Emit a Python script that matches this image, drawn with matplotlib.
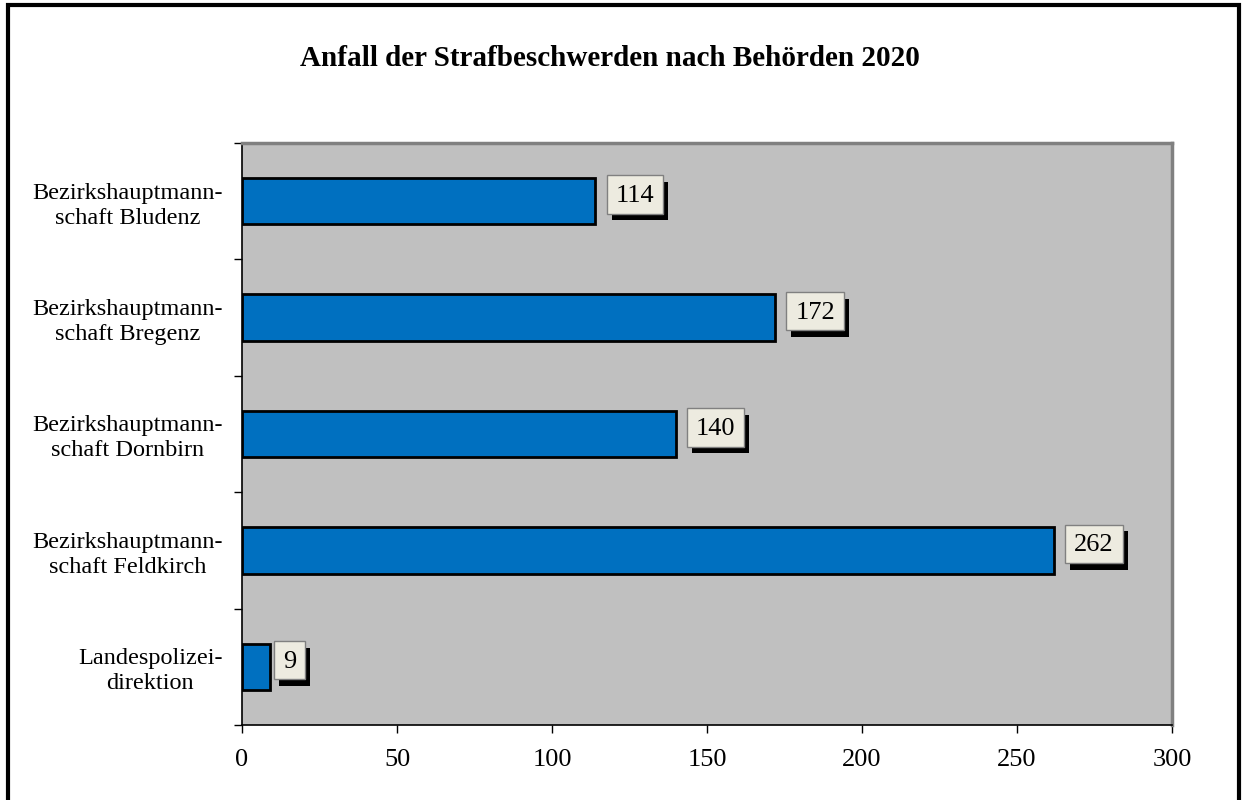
import matplotlib
matplotlib.use("Agg")
import matplotlib.pyplot as plt
import matplotlib.patheffects as pe
from matplotlib.patches import Rectangle
from matplotlib.path import Path

plt.rcParams['font.family'] = ['Liberation Serif', 'DejaVu Serif']

categories = ["Bezirkshauptmann-\nschaft Bludenz",
              "Bezirkshauptmann-\nschaft Bregenz",
              "Bezirkshauptmann-\nschaft Dornbirn",
              "Bezirkshauptmann-\nschaft Feldkirch",
              "Landespolizei-\ndirektion"]
values = [114, 172, 140, 262, 9]
x_ticks = [0, 50, 100, 150, 200, 250, 300]
title = "Anfall der Strafbeschwerden nach Behörden 2020"


def label_box(x0, y0, width, height, mutation_size):
    # square box, with less room under the digits (no descenders)
    padx = 0.33 * mutation_size
    pady = 0.37 * mutation_size
    cut = 0.12 * mutation_size
    x1 = x0 + width + padx
    y1 = y0 + height + pady
    x0 -= padx
    y0 = y0 - pady + cut
    return Path([(x0, y0), (x1, y0), (x1, y1), (x0, y1), (x0, y0)], closed=True)


fig = plt.figure(figsize=(12.42, 8), dpi=100)
ax = fig.add_axes([242/1242, 1-725/800, 930/1242, 582/800])
ax.set_facecolor('#C0C0C0')

ypos = list(range(len(categories)))
ax.barh(ypos, values, height=0.4, color='#0070C0', edgecolor='black', linewidth=2, zorder=3)

ax.set_ylim(len(categories) - 0.5, -0.5)
ax.set_xlim(0, 300)
ax.set_xticks(x_ticks)
ax.set_yticks(ypos)
ax.set_yticklabels(categories, multialignment='center', linespacing=1.25)
ax.set_yticks([i - 0.5 for i in range(len(categories) + 1)], minor=True)
ax.tick_params(axis='y', which='major', length=0, pad=14, labelsize=17.5)
ax.tick_params(axis='y', which='minor', length=6, width=1, direction='out')
ax.tick_params(axis='x', length=6, width=1, direction='out', pad=11.5, labelsize=19)

for s in ['left', 'bottom']:
    ax.spines[s].set_color('black')
    ax.spines[s].set_linewidth(1.2)
for s in ['top', 'right']:
    ax.spines[s].set_color('#808080')
    ax.spines[s].set_linewidth(2.5)

for y, v in zip(ypos, values):
    off = 4 if v < 20 else 11
    t = ax.annotate(str(v), xy=(v, y), xytext=(off + 9, 5), textcoords='offset pixels',
                    ha='left', va='center', fontsize=19, zorder=5,
                    bbox=dict(boxstyle=label_box, facecolor='#EDEBE0', edgecolor='#808080', linewidth=1))
    t.get_bbox_patch().set_path_effects([
        pe.SimplePatchShadow(offset=(3.6, -4.8), shadow_rgbFace='black', alpha=1.0),
        pe.Normal()])

fig.text(610/1242, 1-58/800, title, ha='center', va='center', fontsize=21, fontweight='bold')

fig.patches.append(Rectangle((8/1242, -0.05), 1231/1242, 1.05 - 5/800, transform=fig.transFigure,
                             fill=False, edgecolor='black', linewidth=3))

fig.savefig('out.png', dpi=100)
